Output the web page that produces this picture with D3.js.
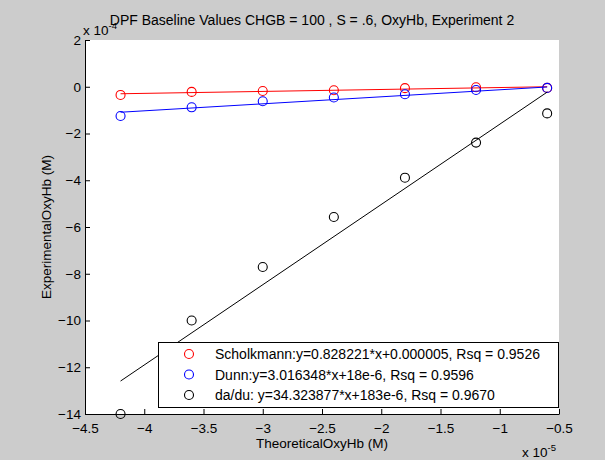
<!DOCTYPE html>
<html>
<head>
<meta charset="utf-8">
<script src="https://cdn.jsdelivr.net/npm/d3@7"></script>
<style>
  body { margin: 0; background: #cccccc; }
  svg { display: block; font-family: "Liberation Sans", Arial, sans-serif; }
</style>
</head>
<body>
<div id="chart"></div>
<script>
// theoretical OxyHb (x 1e-5) and experimental values (x 1e-4)
var theoretical = [-4.2, -3.6, -3.0, -2.4, -1.8, -1.2, -0.6]
var scholkmann = [-0.35, -0.22, -0.18, -0.15, -0.06, -0.02, -0.05]
var dunn = [-1.25, -0.88, -0.62, -0.46, -0.32, -0.14, -0.05]
var dadu = [-14.0, -10.0, -7.71, -5.57, -3.89, -2.39, -1.14]

// fitted lines, end values
var fitX = [-4.2, -0.6]
var fitScholkmann = [-0.30, 0.0]
var fitDunn = [-1.09, -0.01]
var fitDadu = [-12.59, -0.23]

var legendLabels = [
  "Scholkmann:y=0.828221*x+0.000005, Rsq = 0.9526",
  "Dunn:y=3.016348*x+18e-6, Rsq = 0.9596",
  "da/du: y=34.323877*x+183e-6, Rsq = 0.9670"
]
var xTicks = [-4.5, -4, -3.5, -3, -2.5, -2, -1.5, -1, -0.5]
var yTicks = [2, 0, -2, -4, -6, -8, -10, -12, -14]

var width = 605
var height = 460
var margin = {left: 85, right: 46, top: 40, bottom: 46}

var svg = d3.select("#chart")
  .append("svg")
    .attr("width", width)
    .attr("height", height)

var x = d3.scaleLinear()
  .domain([-4.5, -0.5])
  .range([margin.left, width - margin.right])

var y = d3.scaleLinear()
  .domain([-14, 2])
  .range([height - margin.bottom, margin.top])

// white plot area
svg.append("rect")
  .attr("x", x(-4.5))
  .attr("y", y(2))
  .attr("width", x(-0.5) - x(-4.5))
  .attr("height", y(-14) - y(2))
  .attr("fill", "white")

// axes, ticks pointing inward
var xAxis = svg.append("g")
  .attr("transform", "translate(0," + y(-14) + ")")
  .call(d3.axisBottom(x).tickValues(xTicks).tickSizeInner(-5).tickSizeOuter(0).tickFormat(d3.format("")))
xAxis.selectAll("text").attr("y", 9)

var yAxis = svg.append("g")
  .attr("transform", "translate(" + x(-4.5) + ",0)")
  .call(d3.axisLeft(y).tickValues(yTicks).tickSizeInner(-5).tickSizeOuter(0).tickFormat(d3.format("")))
yAxis.selectAll("text").attr("x", -4)

svg.selectAll(".tick text").style("font-size", "13.5px").attr("fill", "black")
svg.selectAll(".domain, .tick line").attr("stroke", "black")

// fit lines
var series = [
  {color: "red", pts: scholkmann, fit: fitScholkmann},
  {color: "blue", pts: dunn, fit: fitDunn},
  {color: "black", pts: dadu, fit: fitDadu}
]

var line = d3.line()
  .x(function(d) { return x(d[0]) })
  .y(function(d) { return y(d[1]) })

series.forEach(function(s) {
  svg.append("path")
    .datum(d3.zip(fitX, s.fit))
    .attr("d", line)
    .attr("fill", "none")
    .attr("stroke", s.color)
    .attr("stroke-width", 1)

  svg.append("g")
    .selectAll("circle")
    .data(d3.zip(theoretical, s.pts))
    .enter()
    .append("circle")
      .attr("cx", function(d) { return x(d[0]) })
      .attr("cy", function(d) { return y(d[1]) })
      .attr("r", 4.5)
      .attr("fill", "none")
      .attr("stroke", s.color)
      .attr("stroke-width", 1.1)
})

// legend
var legend = svg.append("g")
legend.append("rect")
  .attr("x", 158.5)
  .attr("y", 342.5)
  .attr("width", 400)
  .attr("height", 65)
  .attr("fill", "white")
  .attr("stroke", "black")

legendLabels.forEach(function(label, i) {
  var cy = 354 + i * 20.5
  legend.append("circle")
    .attr("cx", 189)
    .attr("cy", cy)
    .attr("r", 4.5)
    .attr("fill", "none")
    .attr("stroke", series[i].color)
    .attr("stroke-width", 1.1)
  legend.append("text")
    .attr("x", 215)
    .attr("y", cy + 5)
    .style("font-size", "14px")
    .text(label)
})

// titles and labels
svg.append("text")
  .attr("x", 312)
  .attr("y", 25)
  .attr("text-anchor", "middle")
  .style("font-size", "14px")
  .text("DPF Baseline Values CHGB = 100 , S = .6, OxyHb, Experiment 2")

svg.append("text")
  .attr("x", (x(-4.5) + x(-0.5)) / 2)
  .attr("y", 448)
  .attr("text-anchor", "middle")
  .style("font-size", "13.5px")
  .text("TheoreticalOxyHb (M)")

svg.append("text")
  .attr("transform", "translate(51," + ((y(2) + y(-14)) / 2) + ") rotate(-90)")
  .attr("text-anchor", "middle")
  .style("font-size", "13.5px")
  .text("ExperimentalOxyHb (M)")

// exponent labels
var xExp = svg.append("text")
  .attr("x", 522)
  .attr("y", 457)
  .style("font-size", "13.5px")
xExp.append("tspan").text("x 10")
xExp.append("tspan").attr("dy", -6).style("font-size", "9.5px").text("-5")

var yExp = svg.append("text")
  .attr("x", 83)
  .attr("y", 35)
  .style("font-size", "13.5px")
yExp.append("tspan").text("x 10")
yExp.append("tspan").attr("dy", -6).style("font-size", "9.5px").text("-4")
</script>
</body>
</html>
